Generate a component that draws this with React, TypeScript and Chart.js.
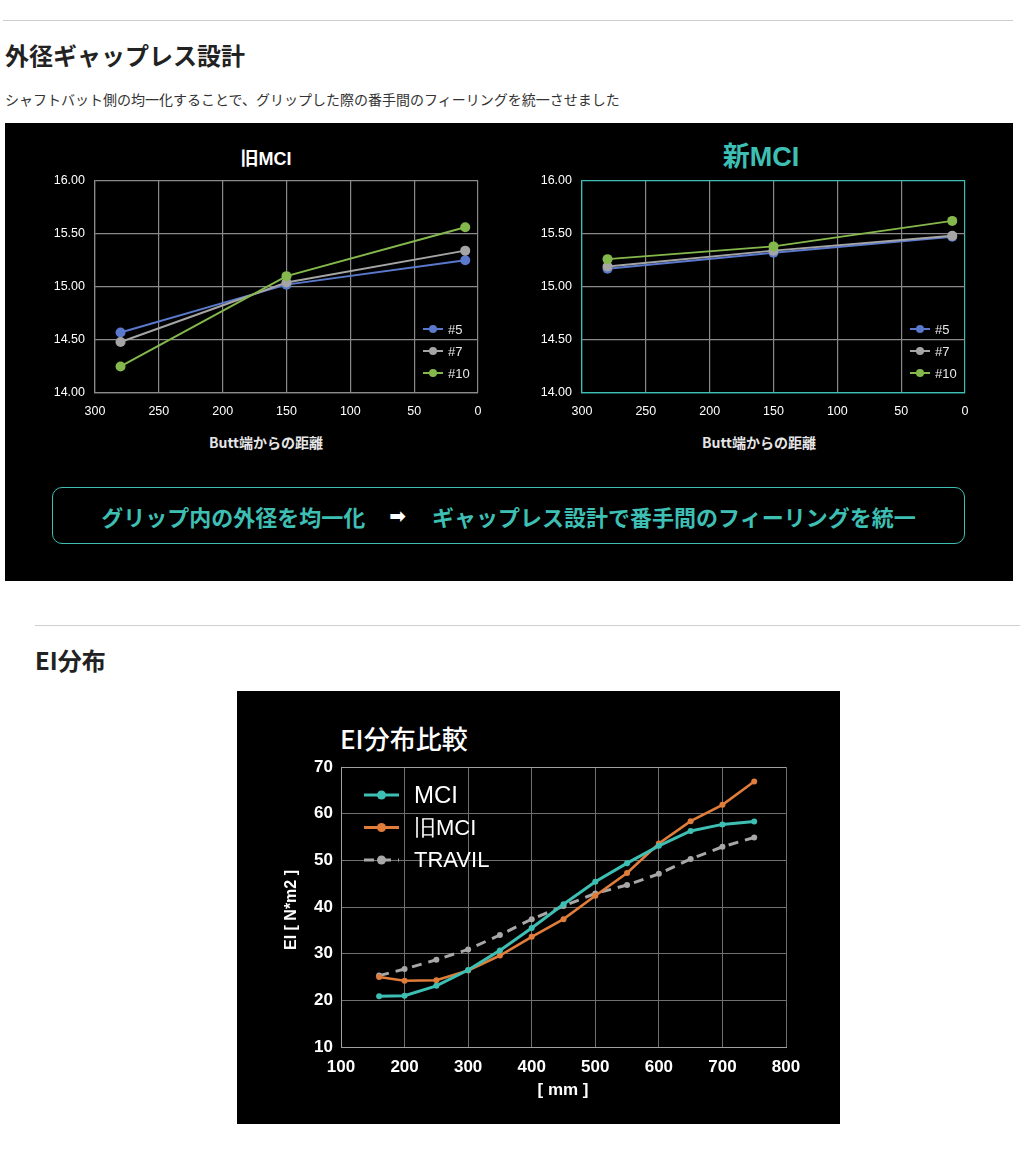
import React, { useEffect, useRef } from "react";
import { Chart, registerables } from "chart.js";

Chart.register(...registerables);

const TEAL = "#3ebfb4";
const JP = '"Noto Sans CJK JP", "Noto Sans", sans-serif';
const LAT = '"Liberation Sans", Arial, Helvetica, sans-serif';

// ---- Top charts: outer diameter vs distance from butt ----
const buttDistance = [280, 150, 10];
const clubLabels = ["#5", "#7", "#10"];
const clubColors = ["#5a78cc", "#a5a5a5", "#84b84c"];

const oldMci5 = [14.57, 15.02, 15.25];
const oldMci7 = [14.48, 15.04, 15.34];
const oldMci10 = [14.25, 15.1, 15.56];

const newMci5 = [15.17, 15.32, 15.47];
const newMci7 = [15.19, 15.34, 15.48];
const newMci10 = [15.26, 15.38, 15.62];

// ---- Bottom chart: EI distribution ----
const eiPositions = [160, 200, 250, 300, 350, 400, 450, 500, 550, 600, 650, 700, 750];
const eiMci = [20.9, 21.0, 23.1, 26.5, 30.7, 35.5, 40.6, 45.4, 49.4, 53.1, 56.3, 57.7, 58.3];
const eiOldMci = [25.0, 24.2, 24.3, 26.4, 29.6, 33.6, 37.4, 42.4, 47.3, 53.6, 58.4, 61.9, 66.9];
const eiTravil = [25.3, 26.7, 28.7, 30.9, 34.0, 37.4, 40.2, 42.9, 44.7, 47.1, 50.3, 52.9, 54.9];
const eiLabels = ["MCI", "旧MCI", "TRAVIL"];
const eiColors = [TEAL, "#e07d3a", "#a8a8a8"];

const legendPlugin = {
  id: "customLegend",
  afterDraw(chart: any, _args: any, opts: any) {
    const { ctx, chartArea } = chart;
    ctx.save();
    chart.data.datasets.forEach((d: any, i: number) => {
      const x0 = (opts.fromRight ? chartArea.right : chartArea.left) + opts.x;
      const y = (opts.fromBottom ? chartArea.bottom : chartArea.top) + opts.y + i * opts.gap;
      ctx.strokeStyle = d.borderColor;
      ctx.lineWidth = opts.lineWidth;
      ctx.lineCap = "butt";
      ctx.setLineDash(d.borderDash || []);
      ctx.beginPath();
      ctx.moveTo(x0, y);
      ctx.lineTo(x0 + opts.lineLen, y);
      ctx.stroke();
      ctx.setLineDash([]);
      ctx.fillStyle = d.borderColor;
      ctx.beginPath();
      ctx.arc(x0 + opts.lineLen / 2, y, opts.dot, 0, Math.PI * 2);
      ctx.fill();
      ctx.fillStyle = opts.color;
      ctx.font = d.legendFont || opts.font;
      ctx.textBaseline = "middle";
      ctx.textAlign = "left";
      ctx.fillText(d.label, x0 + opts.lineLen + opts.textGap, y + 1);
    });
    ctx.restore();
  },
};

function clubConfig(series: number[][], edgeColor: string): any {
  const GRID = "#8a8a8a";
  return {
    type: "line",
    data: {
      datasets: series.map((s, i) => ({
        label: clubLabels[i],
        data: buttDistance.map((x, j) => ({ x, y: s[j] })),
        borderColor: clubColors[i],
        backgroundColor: clubColors[i],
        borderWidth: 2,
        pointRadius: 5,
        pointHoverRadius: 5,
        pointBorderWidth: 0,
        order: series.length - 1 - i,
      })),
    },
    options: {
      responsive: false,
      animation: false,
      events: [],
      layout: { padding: { left: 0, top: 13, right: 32, bottom: 0 } },
      plugins: {
        legend: { display: false },
        tooltip: { enabled: false },
        customLegend: {
          fromRight: true,
          fromBottom: true,
          x: -55,
          y: -64,
          gap: 22,
          lineLen: 20,
          lineWidth: 2,
          dot: 4,
          textGap: 5,
          font: `13px ${LAT}`,
          color: "#e8e8e8",
        },
      },
      scales: {
        x: {
          type: "linear",
          reverse: true,
          min: 0,
          max: 300,
          ticks: { stepSize: 50, color: "#ffffff", font: { family: LAT, size: 12.5 }, padding: 11, maxRotation: 0 },
          grid: {
            drawTicks: false,
            lineWidth: 1.2,
            color: (c: any) => (c.tick && (c.tick.value === 0 || c.tick.value === 300) ? edgeColor : GRID),
          },
          border: { color: edgeColor, width: 1.2 },
          afterFit: (s: any) => {
            s.height = 35;
          },
        },
        y: {
          min: 14,
          max: 16,
          ticks: {
            stepSize: 0.5,
            color: "#ffffff",
            font: { family: LAT, size: 12.5 },
            padding: 10,
            callback: (v: any) => Number(v).toFixed(2),
          },
          grid: {
            drawTicks: false,
            lineWidth: 1.2,
            color: (c: any) => (c.tick && (c.tick.value === 16 || c.tick.value === 14) ? edgeColor : GRID),
          },
          border: { color: edgeColor, width: 1.2 },
          afterFit: (s: any) => {
            s.width = 55;
          },
        },
      },
    },
    plugins: [legendPlugin],
  };
}

function eiConfig(): any {
  const series = [eiMci, eiOldMci, eiTravil];
  return {
    type: "line",
    data: {
      datasets: series.map((s, i) => ({
        label: eiLabels[i],
        data: eiPositions.map((x, j) => ({ x, y: s[j] })),
        borderColor: eiColors[i],
        backgroundColor: eiColors[i],
        borderWidth: i === 1 ? 2.6 : 3,
        borderDash: i === 2 ? [10, 7] : undefined,
        pointRadius: 3,
        pointHoverRadius: 3,
        pointBorderWidth: 0,
        legendFont: i === 0 ? `24px ${LAT}` : `22px ${LAT}`,
      })),
    },
    options: {
      responsive: false,
      animation: false,
      events: [],
      layout: { padding: { left: 0, top: 76, right: 54, bottom: 0 } },
      plugins: {
        legend: { display: false },
        tooltip: { enabled: false },
        customLegend: {
          fromRight: false,
          fromBottom: false,
          x: 23,
          y: 28,
          gap: 32.5,
          lineLen: 35,
          lineWidth: 3,
          dot: 4.5,
          textGap: 15,
          font: `22px ${LAT}`,
          color: "#ffffff",
        },
      },
      scales: {
        x: {
          type: "linear",
          min: 100,
          max: 800,
          ticks: { stepSize: 100, color: "#ffffff", font: { family: LAT, size: 17, weight: "bold" }, padding: 10, maxRotation: 0 },
          grid: { drawTicks: false, color: "#707070", lineWidth: 1 },
          border: { color: "#a0a0a0", width: 1 },
          afterFit: (s: any) => {
            s.height = 77;
          },
        },
        y: {
          min: 10,
          max: 70,
          ticks: { stepSize: 10, color: "#ffffff", font: { family: LAT, size: 17, weight: "bold" }, padding: 8 },
          grid: {
            drawTicks: false,
            lineWidth: 1,
            color: (c: any) => (c.tick && c.tick.value === 70 ? "#a0a0a0" : "#707070"),
          },
          border: { color: "#a0a0a0", width: 1 },
          afterFit: (s: any) => {
            s.width = 104;
          },
        },
      },
    },
    plugins: [legendPlugin],
  };
}

function ChartCanvas(props: { make: () => any; left: number; top: number; width: number; height: number }) {
  const ref = useRef<HTMLCanvasElement | null>(null);
  useEffect(() => {
    if (!ref.current) return;
    const chart = new Chart(ref.current, props.make());
    return () => chart.destroy();
  }, []);
  return (
    <canvas
      ref={ref}
      width={props.width}
      height={props.height}
      style={{ position: "absolute", left: props.left, top: props.top, width: props.width, height: props.height }}
    />
  );
}

function Txt(props: {
  children: React.ReactNode;
  cx?: number;
  left?: number;
  cy: number;
  size: number;
  color: string;
  weight?: number | string;
  family?: string;
  w?: number;
}) {
  const h = props.size * 1.6;
  const w = props.w ?? 400;
  const style: React.CSSProperties = {
    position: "absolute",
    top: props.cy - h / 2,
    height: h,
    lineHeight: h + "px",
    fontSize: props.size,
    color: props.color,
    fontWeight: props.weight ?? "normal",
    fontFamily: props.family ?? JP,
    whiteSpace: "nowrap",
  };
  if (props.cx !== undefined) {
    style.left = props.cx - w / 2;
    style.width = w;
    style.textAlign = "center";
  } else {
    style.left = props.left;
  }
  return <div style={style}>{props.children}</div>;
}

export default function App() {
  return (
    <div style={{ position: "absolute", left: 0, top: 0, width: 1020, height: 1166, background: "#ffffff", overflow: "hidden" }}>
      <div style={{ position: "absolute", left: 3, top: 20, width: 1010, height: 1, background: "#cfcfcf" }} />
      <Txt left={5} cy={55} size={24} weight="bold" color="#222">外径ギャップレス設計</Txt>
      <Txt left={5} cy={99} size={14} color="#333">シャフトバット側の均一化することで、グリップした際の番手間のフィーリングを統一させました</Txt>

      <div style={{ position: "absolute", left: 5, top: 123, width: 1008, height: 458, background: "#000" }} />
      <Txt cx={266} cy={157} size={18} weight="bold" color="#fff" family={`${LAT}`}>
        <span style={{ fontFamily: JP }}>旧</span>MCI
      </Txt>
      <Txt cx={761} cy={155} size={27} weight="bold" color={TEAL} family={`${LAT}`}>
        <span style={{ fontFamily: JP }}>新</span>MCI
      </Txt>
      <ChartCanvas make={() => clubConfig([oldMci5, oldMci7, oldMci10], "#8a8a8a")} left={40} top={163} width={470} height={265} />
      <ChartCanvas make={() => clubConfig([newMci5, newMci7, newMci10], TEAL)} left={527} top={163} width={470} height={265} />
      <Txt cx={266} cy={442} size={14} weight="bold" color="#e6e6e6">Butt端からの距離</Txt>
      <Txt cx={759} cy={442} size={14} weight="bold" color="#e6e6e6">Butt端からの距離</Txt>

      <div
        style={{
          position: "absolute",
          left: 52,
          top: 487,
          width: 913,
          height: 57,
          boxSizing: "border-box",
          border: `1.5px solid ${TEAL}`,
          borderRadius: 10,
          display: "flex",
          alignItems: "center",
          justifyContent: "center",
          fontFamily: JP,
          fontWeight: "bold",
          fontSize: 22,
          color: TEAL,
          whiteSpace: "nowrap",
        }}
      >
        <span>グリップ内の外径を均一化</span>
        <span style={{ color: "#fff", fontFamily: '"DejaVu Sans", sans-serif', fontSize: 20, margin: "0 26px 0 24px" }}>➡</span>
        <span>ギャップレス設計で番手間のフィーリングを統一</span>
      </div>

      <div style={{ position: "absolute", left: 35, top: 625, width: 985, height: 1, background: "#cfcfcf" }} />
      <Txt left={35} cy={660} size={24} weight="bold" color="#222">EI分布</Txt>

      <div style={{ position: "absolute", left: 237, top: 691, width: 603, height: 433, background: "#000" }} />
      <Txt left={340} cy={738} size={26} weight={500} color="#fff">EI分布比較</Txt>
      <ChartCanvas make={eiConfig} left={237} top={691} width={603} height={433} />
      <div
        style={{
          position: "absolute",
          left: 291 - 100,
          top: 910 - 12,
          width: 200,
          height: 24,
          lineHeight: "24px",
          textAlign: "center",
          transform: "rotate(-90deg)",
          fontFamily: LAT,
          fontWeight: "bold",
          fontSize: 16,
          color: "#fff",
          whiteSpace: "nowrap",
        }}
      >
        EI [ N*m2 ]
      </div>
      <Txt cx={563} cy={1090} size={17} weight="bold" color="#fff" family={LAT}>[ mm ]</Txt>
    </div>
  );
}
